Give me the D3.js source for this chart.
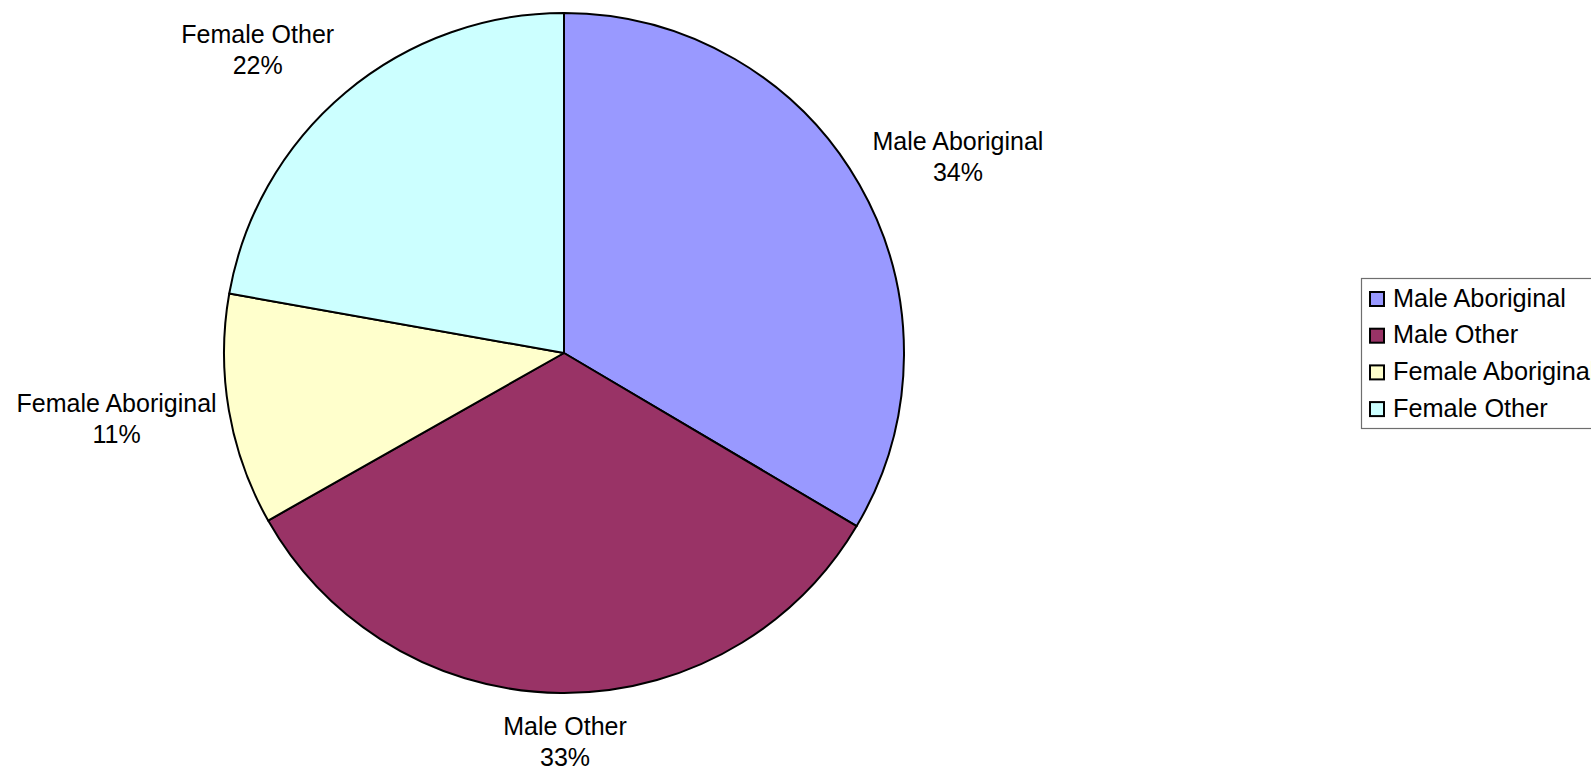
<!DOCTYPE html>
<html>
<head>
<meta charset="utf-8">
<script src="https://cdn.jsdelivr.net/npm/d3@7"></script>
<style>
  html, body { margin: 0; padding: 0; background: #ffffff; overflow: hidden; }
  svg { display: block; }
  text { font-family: "Liberation Sans", Arial, Helvetica, sans-serif; fill: #000; }
</style>
</head>
<body>
<svg id="chart" width="1591" height="767"></svg>
<script>
const categories = ["Male Aboriginal", "Male Other", "Female Aboriginal", "Female Other"];
const values = [33.5, 33.3, 11.0, 22.2];
const percentLabels = ["34%", "33%", "11%", "22%"];
const colors = ["#9999FF", "#993366", "#FFFFCC", "#CCFFFF"];

const svg = d3.select("#chart");
const cx = 564, cy = 353, R = 340;
// small layout nudges for outside labels (dx, dy in px)
const labelNudge = [[7, -4], [5, -1], [6, 0], [-26, -5]];

const pie = d3.pie().sort(null).value(d => d.value);
const data = categories.map((c, i) => ({ name: c, value: values[i], label: percentLabels[i], color: colors[i] }));
const arcs = pie(data);
const arc = d3.arc().innerRadius(0).outerRadius(R);

const g = svg.append("g").attr("transform", `translate(${cx},${cy})`);
g.selectAll("path.slice")
  .data(arcs)
  .enter().append("path")
  .attr("class", "slice")
  .attr("d", arc)
  .attr("fill", d => d.data.color)
  .attr("stroke", "#000")
  .attr("stroke-width", 2)
  .attr("stroke-linejoin", "round");

// Outside labels
const fontSize = 25, lineH = 31, gap = 20;
arcs.forEach((d, i) => {
  const a = (d.startAngle + d.endAngle) / 2;
  const sx = Math.sin(a), sy = -Math.cos(a);
  const t = g.append("text")
    .attr("text-anchor", "middle")
    .style("font-size", fontSize + "px");
  t.append("tspan").attr("x", 0).attr("dy", 0).text(d.data.name);
  t.append("tspan").attr("x", 0).attr("dy", lineH).text(d.data.label);
  const bb = t.node().getBBox();
  const w = bb.width, h = bb.height;
  const px = (R + gap) * sx + sx * w / 2 + labelNudge[i][0];
  const py = (R + gap) * sy + sy * h / 2;
  const dy = py - (bb.y + h / 2) + labelNudge[i][1];
  t.attr("transform", `translate(${px},${dy})`);
});

// Legend
const lg = svg.append("g");
const lx = 1361, ly = 278, lh = 150, rowH = 36.7;
lg.append("rect")
  .attr("x", lx + 0.5).attr("y", ly + 0.5)
  .attr("width", 300).attr("height", lh)
  .attr("fill", "#fff").attr("stroke", "#6e6e6e").attr("stroke-width", 1.2);
const rows = lg.selectAll("g.row").data(data).enter().append("g")
  .attr("class", "row")
  .attr("transform", (d, i) => `translate(${lx}, ${ly + 13 + i * rowH})`);
rows.append("rect")
  .attr("x", 9).attr("y", 1)
  .attr("width", 14).attr("height", 14)
  .attr("fill", d => d.color)
  .attr("stroke", "#000").attr("stroke-width", 2);
rows.append("text")
  .attr("x", 32).attr("y", 15.5)
  .style("font-size", "25.3px")
  .text(d => d.name);
</script>
</body>
</html>
